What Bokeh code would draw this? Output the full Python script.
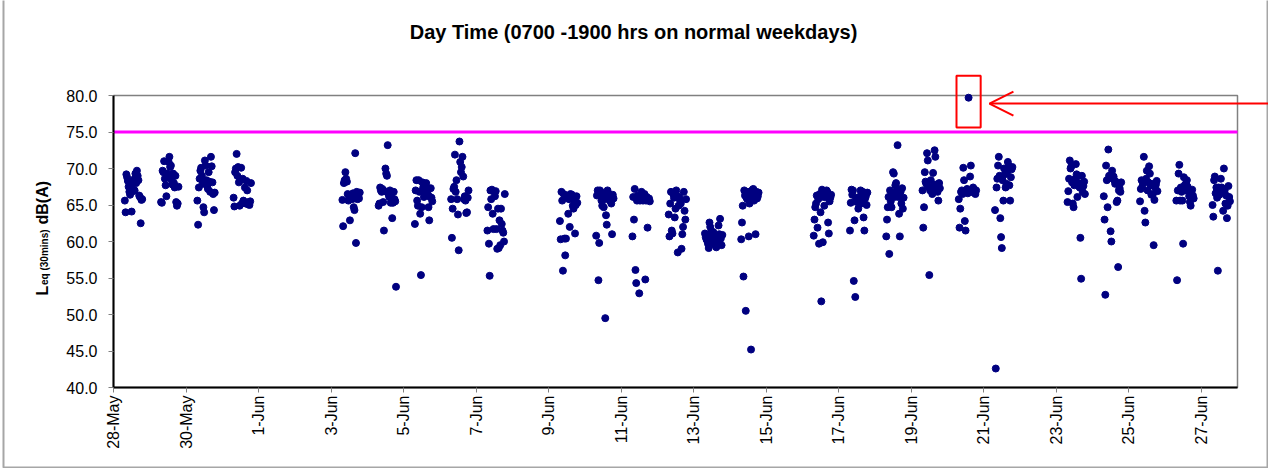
import pandas as pd
from math import pi
from bokeh.plotting import figure
from bokeh.models import (FixedTicker, BoxAnnotation, Arrow, OpenHead, Label,
                          Range1d, PrintfTickFormatter, ColumnDataSource)
from bokeh.embed import file_html
from bokeh.resources import INLINE

# ---------------- data ----------------
title_text = "Day Time (0700 -1900 hrs on normal weekdays)"
threshold = 75.0
highlight_time = "2008-06-20 14:00"
highlight_value = 79.7

day_dates = ["2008-05-28", "2008-05-29", "2008-05-30", "2008-05-31",
             "2008-06-03", "2008-06-04", "2008-06-05", "2008-06-06", "2008-06-07",
             "2008-06-09", "2008-06-10", "2008-06-11", "2008-06-12", "2008-06-13", "2008-06-14",
             "2008-06-16", "2008-06-17", "2008-06-18", "2008-06-19", "2008-06-20", "2008-06-21",
             "2008-06-23", "2008-06-24", "2008-06-25", "2008-06-26", "2008-06-27"]

may28 = [65.6, 64.0, 69.2, 68.8, 68.3, 67.5, 66.8, 66.4, 67.9, 64.1, 67.2, 66.9, 68.5, 67.0, 69.3, 68.0, 69.7, 69.0, 68.4, 66.3, 66.1, 62.5, 65.7, 65.8]
may29 = [65.4, 65.3, 69.7, 69.5, 71.0, 68.6, 67.7, 66.2, 69.3, 68.8, 70.9, 71.6, 70.2, 70.4, 68.4, 67.8, 69.3, 68.0, 67.4, 69.0, 65.4, 64.9, 65.2, 67.5]
may30 = [65.6, 62.3, 67.4, 68.6, 69.7, 70.1, 69.0, 67.9, 64.7, 64.0, 71.1, 70.4, 68.4, 67.6, 67.2, 69.5, 68.2, 66.8, 71.6, 70.3, 68.1, 66.5, 64.3, 66.7]
may31 = [66.0, 64.8, 69.5, 70.0, 72.0, 69.0, 70.2, 68.1, 64.9, 68.4, 70.1, 65.2, 68.6, 65.6, 65.3, 67.4, 65.2, 68.3, 67.0, 65.1, 65.4, 65.0, 65.5, 68.0]
jun03 = [65.7, 62.1, 68.0, 68.4, 69.5, 68.6, 68.2, 66.5, 65.6, 65.9, 62.9, 66.3, 66.0, 65.8, 66.6, 64.7, 64.3, 72.1, 59.8, 66.8, 65.8, 66.2, 65.9, 66.7]
jun04 = [64.9, 65.2, 67.4, 67.0, 66.8, 67.2, 65.4, 61.5, 66.9, 70.0, 69.3, 69.0, 73.2, 66.5, 66.1, 67.0, 65.3, 66.6, 63.2, 65.3, 66.8, 65.8, 65.5, 53.8]
jun05 = [62.4, 67.0, 68.4, 65.6, 64.9, 68.4, 66.8, 63.8, 55.4, 64.7, 68.1, 67.4, 66.1, 66.8, 67.7, 68.0, 67.2, 66.5, 64.7, 62.9, 66.1, 67.3, 66.0, 65.5]
jun06 = [65.8, 60.5, 64.5, 67.2, 67.5, 71.9, 66.8, 68.4, 65.8, 63.7, 58.8, 73.7, 70.9, 69.5, 70.2, 71.6, 68.9, 65.8, 66.2, 65.6, 63.9, 64.0, 66.0, 67.0]
jun07 = [61.5, 64.7, 59.7, 55.3, 67.0, 65.8, 67.1, 63.8, 61.7, 66.8, 66.2, 66.9, 61.7, 59.0, 64.5, 59.1, 62.9, 59.5, 64.5, 62.4, 61.5, 61.2, 60.0, 66.5]
jun09 = [62.8, 60.3, 66.8, 65.6, 56.0, 66.5, 60.4, 58.1, 60.4, 66.3, 66.0, 63.8, 65.8, 62.0, 66.5, 66.1, 66.4, 64.9, 64.5, 65.5, 61.1, 65.0, 66.2, 65.3]
jun10 = [60.8, 66.3, 67.0, 54.7, 59.8, 67.0, 66.8, 65.6, 64.9, 66.3, 64.7, 65.8, 49.5, 63.6, 62.3, 67.0, 66.6, 66.1, 65.6, 66.0, 65.2, 61.0, 66.4, 65.9]
jun11 = [60.7, 66.1, 63.0, 67.2, 56.1, 54.3, 65.6, 66.3, 65.9, 52.9, 65.6, 65.8, 66.8, 66.0, 65.6, 66.3, 66.5, 54.8, 65.6, 66.1, 61.9, 65.8, 65.9, 65.5]
jun12 = [63.7, 60.7, 65.2, 66.8, 61.5, 61.1, 66.5, 66.0, 63.3, 64.5, 67.0, 66.2, 58.5, 64.9, 66.1, 65.6, 65.2, 59.0, 61.0, 62.0, 66.8, 64.2, 63.0, 65.8]
jun13 = [61.1, 60.6, 60.3, 60.1, 59.7, 59.1, 62.6, 62.0, 61.3, 60.6, 59.9, 61.3, 60.8, 59.6, 60.0, 59.2, 60.6, 60.2, 62.2, 61.0, 63.1, 60.4, 59.5, 60.9]
jun14 = [60.3, 62.6, 64.9, 55.2, 67.0, 66.3, 50.5, 66.0, 65.8, 66.8, 60.7, 65.2, 65.6, 45.2, 66.5, 67.1, 67.2, 65.6, 66.5, 61.0, 66.8, 65.9, 66.2, 66.7]
jun16 = [60.8, 63.0, 64.7, 65.2, 66.3, 61.9, 65.8, 59.7, 66.5, 64.0, 51.8, 67.1, 59.9, 66.1, 64.9, 66.6, 66.1, 67.0, 66.8, 62.6, 61.1, 65.5, 66.0, 66.4]
jun17 = [61.5, 65.3, 67.1, 66.4, 67.0, 54.6, 62.9, 52.4, 65.8, 65.4, 66.0, 64.5, 66.1, 65.6, 67.0, 65.2, 66.5, 66.8, 63.3, 61.5, 65.9, 66.2, 65.0, 66.7]
jun18 = [60.7, 63.0, 64.7, 66.1, 58.3, 67.0, 65.5, 64.7, 66.5, 69.5, 69.3, 66.1, 67.7, 68.0, 67.0, 73.2, 66.1, 63.8, 60.7, 66.8, 65.2, 67.3, 64.5, 66.0]
jun19 = [67.0, 61.9, 64.7, 69.5, 68.2, 67.9, 72.1, 71.1, 67.5, 55.4, 67.0, 68.4, 67.2, 66.5, 69.4, 67.6, 72.5, 71.6, 67.8, 67.0, 66.8, 65.6, 68.0, 67.3]
jun20 = [65.8, 61.9, 64.5, 66.8, 67.0, 66.5, 70.1, 68.4, 62.8, 61.5, 66.8, 67.2, 66.6, 79.7, 66.9, 68.9, 70.4, 67.0, 66.8, 67.4, 66.7, 67.1, 66.5, 67.0]
jun21 = [64.3, 42.6, 67.4, 68.6, 70.4, 71.6, 69.0, 63.2, 60.6, 59.1, 68.4, 65.6, 70.0, 69.2, 67.4, 67.9, 69.5, 70.9, 70.4, 67.7, 65.6, 68.8, 69.9, 70.2]
jun23 = [65.4, 66.9, 68.6, 71.1, 70.0, 70.3, 68.1, 65.2, 64.7, 67.7, 68.6, 70.6, 69.2, 66.1, 69.0, 68.0, 67.4, 60.5, 54.9, 69.0, 66.8, 67.6, 68.2, 66.5]
jun24 = [66.2, 63.0, 52.7, 70.4, 68.4, 64.7, 72.6, 69.0, 68.8, 61.4, 60.0, 69.7, 68.6, 68.9, 68.4, 67.9, 68.2, 65.4, 65.6, 56.5, 67.0, 67.3, 66.8, 68.1]
jun25 = [65.5, 67.2, 68.4, 67.5, 68.0, 71.6, 64.2, 62.6, 68.6, 69.7, 67.0, 68.1, 70.3, 69.3, 67.7, 66.4, 67.9, 66.5, 59.5, 65.7, 67.4, 67.8, 68.3, 66.9]
jun26 = [65.6, 54.7, 67.0, 69.3, 70.5, 65.6, 67.4, 66.8, 65.6, 59.7, 68.8, 67.7, 67.0, 68.0, 68.4, 67.5, 67.0, 66.2, 65.4, 64.9, 66.5, 67.1, 66.3, 65.9]
jun27 = [65.0, 63.4, 68.4, 68.9, 66.6, 67.4, 66.0, 56.0, 67.4, 66.4, 67.0, 68.6, 67.4, 66.8, 64.2, 70.0, 67.0, 65.2, 66.3, 63.2, 64.9, 67.6, 66.1, 65.5]

day_values = [may28, may29, may30, may31, jun03, jun04, jun05, jun06, jun07,
              jun09, jun10, jun11, jun12, jun13, jun14, jun16, jun17, jun18,
              jun19, jun20, jun21, jun23, jun24, jun25, jun26, jun27]

y_ticks = [40.0, 45.0, 50.0, 55.0, 60.0, 65.0, 70.0, 75.0, 80.0]
x_tick_dates = ["2008-05-28", "2008-05-30", "2008-06-01", "2008-06-03", "2008-06-05",
                "2008-06-07", "2008-06-09", "2008-06-11", "2008-06-13", "2008-06-15",
                "2008-06-17", "2008-06-19", "2008-06-21", "2008-06-23", "2008-06-25",
                "2008-06-27"]
x_tick_labels = ["28-May", "30-May", "1-Jun", "3-Jun", "5-Jun", "7-Jun", "9-Jun", "11-Jun",
                 "13-Jun", "15-Jun", "17-Jun", "19-Jun", "21-Jun", "23-Jun", "25-Jun", "27-Jun"]
axis_start = "2008-05-28"
axis_end = "2008-06-28"
y_min, y_max = 40.0, 80.0

# ---------------- build table ----------------
xs, ys = [], []
for d, vals in zip(day_dates, day_values):
    times = pd.date_range(pd.Timestamp(d) + pd.Timedelta(minutes=450), periods=len(vals), freq="30min")
    xs.extend(times)
    ys.extend(vals)
src = ColumnDataSource(dict(t=xs, v=ys))

# ---------------- layout (pixel geometry) ----------------
FONT = "Liberation Sans"
W, H = 1268, 468
PLOT_L, PLOT_R, PLOT_T, PLOT_B = 113, 1237, 95, 387   # plot-area edges in canvas px
x_start = pd.Timestamp(axis_start)
x_end = pd.Timestamp(axis_end)
n_days = (x_end - x_start) / pd.Timedelta(days=1)
px_day = (PLOT_R - PLOT_L) / n_days
px_db = (PLOT_B - PLOT_T) / (y_max - y_min)


def x_at(px):
    return x_start + pd.Timedelta(days=(px - PLOT_L) / px_day)


def y_at(py):
    return y_max - (py - PLOT_T) / px_db


def ms(ts):
    return float(ts.value // 10**6)


p = figure(x_axis_type="datetime", output_backend="svg", toolbar_location=None,
           width=W, height=H, title=None,
           x_range=Range1d(x_at(0), x_at(W)), y_range=Range1d(y_at(H), y_at(0)),
           min_border=0, min_border_left=0, min_border_right=0,
           min_border_top=0, min_border_bottom=0,
           background_fill_color="white", border_fill_color="white")

p.xgrid.visible = False
p.ygrid.visible = False
p.outline_line_color = None

tick_ms = [int(ms(pd.Timestamp(d))) for d in x_tick_dates]
xax = p.xaxis[0]
yax = p.yaxis[0]
xax.ticker = FixedTicker(ticks=tick_ms)
xax.major_label_overrides = {t: lab for t, lab in zip(tick_ms, x_tick_labels)}
xax.major_label_orientation = pi / 2
xax.fixed_location = y_min
xax.bounds = (ms(x_start), ms(x_end))
xax.major_label_standoff = 3

yax.ticker = FixedTicker(ticks=y_ticks)
yax.formatter = PrintfTickFormatter(format="%.1f")
yax.fixed_location = ms(x_start)
yax.bounds = (y_min, y_max)
yax.major_label_standoff = 11

for ax in (xax, yax):
    ax.axis_line_color = "black"
    ax.axis_line_width = 2
    ax.major_tick_line_color = "#808080"
    ax.major_tick_line_width = 1
    ax.major_tick_in = 0
    ax.major_tick_out = 5
    ax.minor_tick_line_color = None
    ax.major_label_text_font = FONT
    ax.major_label_text_font_size = "16px"
    ax.major_label_text_color = "black"

# outer chart border and plot-area border
p.add_layout(BoxAnnotation(left=ms(x_at(3)), right=ms(x_at(W - 1)), bottom=y_at(H - 1), top=y_at(-5),
                           fill_color=None, line_color="#a6a6a6", line_width=2, line_alpha=1,
                           level="underlay"))
p.add_layout(BoxAnnotation(left=ms(x_start), right=ms(x_end), bottom=y_min, top=y_max,
                           fill_color=None, line_color="#808080", line_width=1.5, line_alpha=1,
                           level="underlay"))

# threshold line
p.segment(x0=[x_start], y0=[threshold], x1=[x_end], y1=[threshold],
          line_color="#FF00FF", line_width=3)

# points
p.scatter("t", "v", source=src, size=7, color="#000080", line_color="#000080")

# highlight box and arrow
ht = pd.Timestamp(highlight_time)
p.add_layout(BoxAnnotation(left=ms(ht - pd.Timedelta(hours=8)), right=ms(ht + pd.Timedelta(hours=8)),
                           bottom=highlight_value - 4.1, top=highlight_value + 3.0,
                           fill_color=None, line_color="#FF0000", line_width=2, line_alpha=1))
p.add_layout(Arrow(end=OpenHead(size=24, line_color="#FF0000", line_width=2),
                   x_start=ms(x_at(W + 20)), y_start=highlight_value - 0.8,
                   x_end=ms(ht + pd.Timedelta(hours=13.8)), y_end=highlight_value - 0.8,
                   line_color="#FF0000", line_width=2))

# title
p.add_layout(Label(x=ms(x_at(633)), y=y_at(31), text=title_text,
                   text_font=FONT, text_font_size="20px", text_font_style="bold",
                   text_align="center", text_baseline="middle", text_color="black"))

# y axis title with subscript
p.add_layout(Label(x=ms(x_at(42)), y=y_at(295), text="L", angle=pi / 2,
                   text_font=FONT, text_font_size="16px", text_font_style="bold",
                   text_align="left", text_baseline="alphabetic", text_color="black"))
p.add_layout(Label(x=ms(x_at(43.5)), y=y_at(284.5), text="eq (30mins)", angle=pi / 2,
                   text_font=FONT, text_font_size="10px", text_font_style="bold",
                   text_align="left", text_baseline="alphabetic", text_color="black"))
p.add_layout(Label(x=ms(x_at(42)), y=y_at(224), text="dB(A)", angle=pi / 2,
                   text_font=FONT, text_font_size="16px", text_font_style="bold",
                   text_align="left", text_baseline="alphabetic", text_color="black"))

open("out.html", "w").write(file_html(p, INLINE))
